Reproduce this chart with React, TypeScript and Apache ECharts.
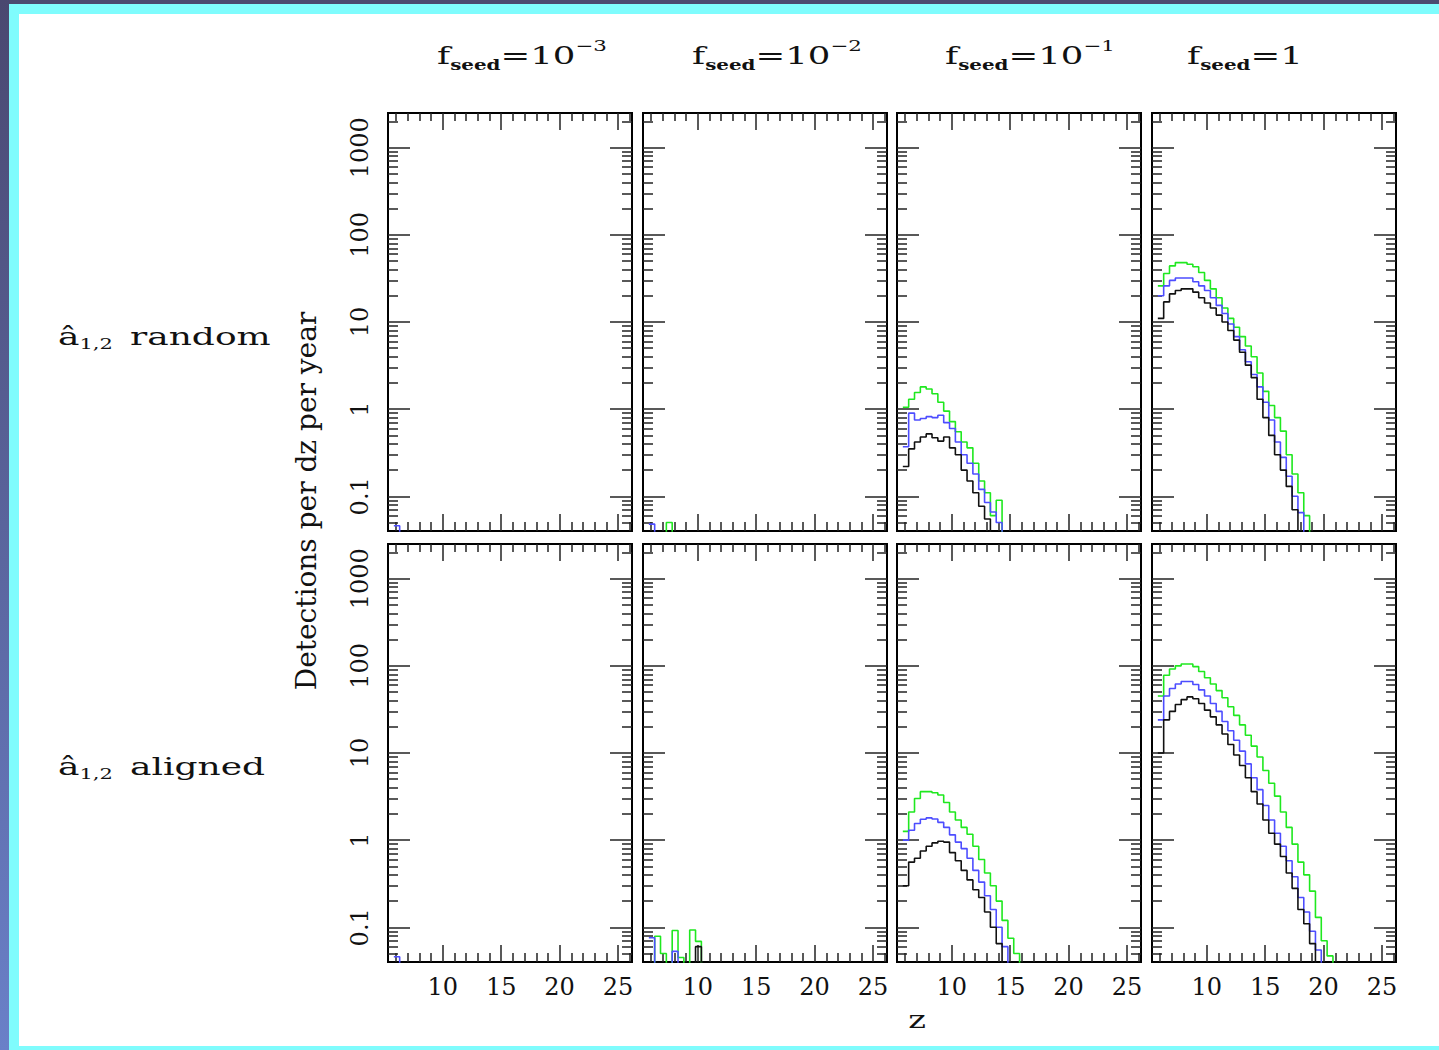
import React, { useEffect, useRef } from "react";
import * as echarts from "echarts";

// ---------- data ----------
const FLOOR = 0.01; // empty bin (falls below the plotted range)
const Z0 = 5.8; // left edge of first redshift bin
const DZ = 0.5; // bin width

const X_MIN = 5.3;
const X_MAX = 26.2;
const Y_MIN = 0.04;
const Y_MAX = 2500;

const X_MAJOR = [10, 15, 20, 25];
const X_MINOR = [6, 7, 8, 9, 11, 12, 13, 14, 16, 17, 18, 19, 21, 22, 23, 24, 26];
const Y_MAJOR = [0.1, 1, 10, 100, 1000];
const Y_MINOR = [
  0.05, 0.06, 0.07, 0.08, 0.09,
  0.2, 0.3, 0.4, 0.5, 0.6, 0.7, 0.8, 0.9,
  2, 3, 4, 5, 6, 7, 8, 9,
  20, 30, 40, 50, 60, 70, 80, 90,
  200, 300, 400, 500, 600, 700, 800, 900,
  2000,
];

const SEED_EXPONENTS = ["−3", "−2", "−1", ""];
const ROW_NAMES = ["random", "aligned"];
const Y_TITLE = "Detections per dz per year";
const X_TITLE = "z";

// f_seed = 1e-3
const RANDOM_F3_BLUE = [0.046, FLOOR];
const ALIGNED_F3_BLUE = [0.046, FLOOR];

// f_seed = 1e-2
const RANDOM_F2_GREEN = [FLOOR, FLOOR, FLOOR, 0.05, FLOOR];
const RANDOM_F2_BLUE = [0.048, FLOOR];
const ALIGNED_F2_GREEN = [FLOOR, 0.079, 0.05, FLOOR, 0.092, 0.045, FLOOR, 0.093, 0.069, FLOOR];
const ALIGNED_F2_BLUE = [0.076, FLOOR, FLOOR, FLOOR, 0.053, FLOOR];
const ALIGNED_F2_BLACK = [FLOOR, FLOOR, FLOOR, FLOOR, FLOOR, FLOOR, FLOOR, FLOOR, 0.06, FLOOR];

// f_seed = 1e-1
const RANDOM_F1_GREEN = [1.05, 1.3, 1.55, 1.8, 1.7, 1.5, 1.2, 0.95, 0.72, 0.55, 0.42, 0.36, 0.24, 0.15, 0.11, 0.06, 0.09, FLOOR];
const RANDOM_F1_BLUE = [0.37, 0.9, 0.75, 0.78, 0.82, 0.8, 0.85, 0.7, 0.6, 0.42, 0.3, 0.24, 0.18, 0.12, 0.085, 0.066, 0.05, FLOOR];
const RANDOM_F1_BLACK = [0.22, 0.35, 0.42, 0.48, 0.52, 0.47, 0.43, 0.48, 0.36, 0.3, 0.2, 0.15, 0.11, 0.077, 0.055, FLOOR];
const ALIGNED_F1_GREEN = [1.26, 2.1, 3.0, 3.6, 3.6, 3.5, 3.3, 2.7, 2.1, 1.7, 1.4, 1.17, 0.85, 0.6, 0.42, 0.3, 0.2, 0.12, 0.075, 0.05, FLOOR];
const ALIGNED_F1_BLUE = [1.0, 1.3, 1.55, 1.74, 1.8, 1.75, 1.6, 1.4, 1.15, 0.95, 0.8, 0.62, 0.45, 0.33, 0.23, 0.16, 0.1, 0.06, FLOOR];
const ALIGNED_F1_BLACK = [0.3, 0.56, 0.62, 0.75, 0.85, 0.93, 0.97, 0.95, 0.72, 0.58, 0.45, 0.35, 0.27, 0.22, 0.15, 0.1, 0.065, FLOOR];

// f_seed = 1
const RANDOM_F0_GREEN = [26, 36, 44, 48, 48, 46, 43, 37, 30, 24, 19, 14.5, 11, 8.7, 6.8, 5.3, 4.0, 2.6, 1.6, 1.1, 0.8, 0.56, 0.3, 0.18, 0.11, 0.06, FLOOR];
const RANDOM_F0_BLUE = [20, 26, 30, 32, 32, 32, 29, 26, 23, 19, 15.5, 12.5, 9.5, 6.8, 4.8, 3.5, 2.5, 1.8, 1.2, 0.75, 0.42, 0.28, 0.17, 0.1, 0.065, FLOOR];
const RANDOM_F0_BLACK = [11, 17, 21, 23, 24, 24, 22, 19, 16.5, 14.5, 12, 10, 8, 6.2, 4.5, 3.2, 2.3, 1.3, 0.8, 0.5, 0.3, 0.2, 0.13, 0.07, FLOOR];
const ALIGNED_F0_GREEN = [45, 78, 92, 100, 105, 105, 98, 86, 73, 62, 52, 43, 34, 27, 21, 16, 12, 9, 6.3, 4.5, 3.2, 2.1, 1.4, 0.9, 0.56, 0.4, 0.26, 0.13, 0.07, 0.047, FLOOR];
const ALIGNED_F0_BLUE = [24, 45, 55, 62, 66, 66, 61, 53, 45, 37, 30, 23, 18, 14, 10.5, 7.5, 5.2, 3.8, 2.5, 1.7, 1.2, 0.85, 0.58, 0.38, 0.22, 0.15, 0.09, 0.055, FLOOR];
const ALIGNED_F0_BLACK = [10, 24, 30, 36, 41, 44, 42, 37, 31, 26, 21, 16.5, 12.5, 9.5, 7.2, 5.2, 3.6, 2.6, 1.7, 1.2, 0.9, 0.65, 0.42, 0.28, 0.16, 0.11, 0.065, FLOOR];

type Panel = { green: number[]; blue: number[]; black: number[] };
const PANELS: Panel[][] = [
  [
    { green: [], blue: RANDOM_F3_BLUE, black: [] },
    { green: RANDOM_F2_GREEN, blue: RANDOM_F2_BLUE, black: [] },
    { green: RANDOM_F1_GREEN, blue: RANDOM_F1_BLUE, black: RANDOM_F1_BLACK },
    { green: RANDOM_F0_GREEN, blue: RANDOM_F0_BLUE, black: RANDOM_F0_BLACK },
  ],
  [
    { green: [], blue: ALIGNED_F3_BLUE, black: [] },
    { green: ALIGNED_F2_GREEN, blue: ALIGNED_F2_BLUE, black: ALIGNED_F2_BLACK },
    { green: ALIGNED_F1_GREEN, blue: ALIGNED_F1_BLUE, black: ALIGNED_F1_BLACK },
    { green: ALIGNED_F0_GREEN, blue: ALIGNED_F0_BLUE, black: ALIGNED_F0_BLACK },
  ],
];

// ---------- layout / style ----------
const SERIF = "'DejaVu Serif', 'Liberation Serif', serif";
const GRID_LEFT = [388, 643, 897, 1152];
const GRID_TOP = [113, 544];
const GRID_W = 244;
const GRID_H = 418;
const COLORS = { green: "#1fe81f", blue: "#4d4dff", black: "#111111" };

function hist(values: number[]) {
  return values.map((v, i) => [Z0 + i * DZ, v]);
}

function xAxis(gridIndex: number, position: string, ticks: number[], len: number, labels: boolean) {
  return {
    type: "value",
    gridIndex,
    position,
    min: X_MIN,
    max: X_MAX,
    axisLine: { show: true, onZero: false, lineStyle: { color: "#000", width: 2 } },
    axisTick: { show: true, inside: true, length: len, customValues: ticks, lineStyle: { color: "#222", width: 1.5 } },
    axisLabel: labels
      ? { show: true, customValues: X_MAJOR, fontSize: 24, fontFamily: SERIF, color: "#111", margin: 13 }
      : { show: false },
    splitLine: { show: false },
  };
}

function yAxis(gridIndex: number, position: string, ticks: number[], len: number, labels: boolean) {
  return {
    type: "log",
    logBase: 10,
    gridIndex,
    position,
    min: Y_MIN,
    max: Y_MAX,
    axisLine: { show: true, onZero: false, lineStyle: { color: "#000", width: 2 } },
    axisTick: { show: true, inside: true, length: len, customValues: ticks, lineStyle: { color: "#222", width: 1.5 } },
    axisLabel: labels
      ? {
          show: true,
          customValues: Y_MAJOR,
          rotate: 90,
          fontSize: 24,
          fontFamily: SERIF,
          color: "#111",
          margin: 16,
          formatter: (v: number) => String(v),
        }
      : { show: false },
    splitLine: { show: false },
    minorTick: { show: false },
  };
}

function buildOption() {
  const grid: any[] = [];
  const xAxes: any[] = [];
  const yAxes: any[] = [];
  const series: any[] = [];
  for (let r = 0; r < 2; r++) {
    for (let c = 0; c < 4; c++) {
      const gi = r * 4 + c;
      grid.push({ left: GRID_LEFT[c], top: GRID_TOP[r], width: GRID_W, height: GRID_H, containLabel: false });
      xAxes.push(
        xAxis(gi, "bottom", X_MAJOR, 17, r === 1),
        xAxis(gi, "bottom", X_MINOR, 9, false),
        xAxis(gi, "top", X_MAJOR, 17, false),
        xAxis(gi, "top", X_MINOR, 8, false)
      );
      yAxes.push(
        yAxis(gi, "left", Y_MAJOR, 22, c === 0),
        yAxis(gi, "left", Y_MINOR, 10, false),
        yAxis(gi, "right", Y_MAJOR, 22, false),
        yAxis(gi, "right", Y_MINOR, 10, false)
      );
      const p = PANELS[r][c];
      (["green", "blue", "black"] as const).forEach((k) => {
        if (!p[k].length) return;
        series.push({
          type: "line",
          xAxisIndex: gi * 4,
          yAxisIndex: gi * 4,
          step: "end",
          symbol: "none",
          showSymbol: false,
          clip: true,
          silent: true,
          lineStyle: { color: COLORS[k], width: 1.6 },
          data: hist(p[k]),
        });
      });
    }
  }

  const titleRich = {
    m: { fontSize: 25, fontFamily: SERIF, fill: "#111", lineHeight: 34, verticalAlign: "middle" },
    s: { fontSize: 14, fontFamily: SERIF, fontWeight: "bold", fill: "#111", lineHeight: 16, verticalAlign: "bottom" },
    p: { fontSize: 15, fontFamily: SERIF, fill: "#111", lineHeight: 19, verticalAlign: "top" },
  };
  const titleX = [437, 692, 945, 1187];
  const titles = SEED_EXPONENTS.map((e, i) => ({
    type: "group",
    x: titleX[i],
    y: 38,
    scaleX: 1.42,
    children: [
      {
        type: "text",
        style: {
          text: e ? `{m|f}{s|seed}{m|=10}{p|${e}}` : `{m|f}{s|seed}{m|=1}`,
          rich: titleRich,
          align: "left",
          verticalAlign: "top",
        },
      },
    ],
  }));

  const rowRich = {
    m: { fontSize: 24, fontFamily: SERIF, fill: "#111", lineHeight: 28, verticalAlign: "middle" },
    g: { fontSize: 36, fontFamily: SERIF, fill: "#111", lineHeight: 28, verticalAlign: "middle" },
    s: { fontSize: 14, fontFamily: SERIF, fill: "#111", lineHeight: 16, verticalAlign: "bottom" },
  };
  const rowY = [323, 753];
  const rowLabels = ROW_NAMES.map((name, i) => ({
    type: "group",
    x: 58,
    y: rowY[i],
    scaleX: 1.5,
    children: [
      {
        type: "text",
        style: { text: `{m|â}{s|1,2}{g| }{m|${name}}`, rich: rowRich, align: "left", verticalAlign: "top" },
      },
    ],
  }));

  const frame = [
    {
      type: "rect",
      silent: true,
      shape: { x: 0, y: 0, width: 9, height: 1050 },
      style: {
        fill: {
          type: "linear", x: 0, y: 0, x2: 0, y2: 1,
          colorStops: [
            { offset: 0, color: "#4a4870" },
            { offset: 1, color: "#6a80c8" },
          ],
        },
      },
    },
    { type: "rect", silent: true, shape: { x: 9, y: 0, width: 1430, height: 4 }, style: { fill: "#4b4a6f" } },
    { type: "rect", silent: true, shape: { x: 9, y: 4, width: 10, height: 1046 }, style: { fill: "#7ffcfd" } },
    { type: "rect", silent: true, shape: { x: 9, y: 4, width: 1430, height: 10 }, style: { fill: "#7ffcfd" } },
    { type: "rect", silent: true, shape: { x: 9, y: 1046, width: 1430, height: 4 }, style: { fill: "#7ffcfd" } },
  ];

  const axisTitles = [
    {
      type: "text",
      x: 306,
      y: 501,
      rotation: Math.PI / 2,
      style: { text: Y_TITLE, fontSize: 28, fontFamily: SERIF, fill: "#111", align: "center", verticalAlign: "middle" },
    },
    {
      type: "text",
      x: 917,
      y: 1020,
      scaleX: 1.4,
      style: { text: X_TITLE, fontSize: 24, fontFamily: SERIF, fill: "#111", align: "center", verticalAlign: "middle" },
    },
  ];

  return {
    animation: false,
    backgroundColor: "#ffffff",
    grid,
    xAxis: xAxes,
    yAxis: yAxes,
    series,
    graphic: [...frame, ...titles, ...rowLabels, ...axisTitles],
  };
}

export default function App() {
  const ref = useRef<HTMLDivElement>(null);
  useEffect(() => {
    const chart = echarts.init(ref.current as HTMLDivElement, null, { renderer: "svg" });
    chart.setOption(buildOption() as any);
    return () => chart.dispose();
  }, []);
  return (
    <div
      ref={ref}
      style={{ position: "absolute", left: 0, top: 0, width: 1439, height: 1050, background: "#fff" }}
    />
  );
}
